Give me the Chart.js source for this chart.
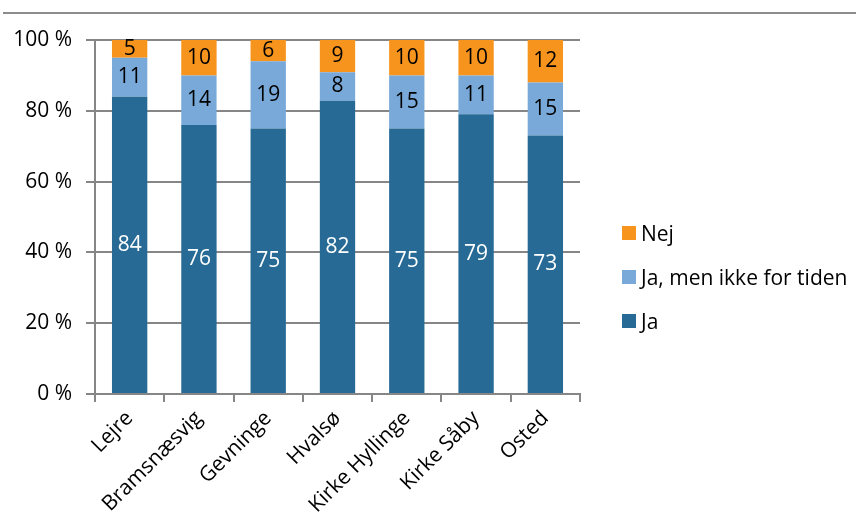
<!DOCTYPE html>
<html>
<head>
<meta charset="utf-8">
<script src="https://cdn.jsdelivr.net/npm/chart.js@4"></script>
<style>
  body { margin: 0; background: #fff; }
  #wrap { position: relative; width: 856px; height: 519px; }
  #topline { position: absolute; left: 3px; right: 0; top: 12px; border-top: 2px solid #8c8c8c; }
  #legend { position: absolute; left: 622px; top: 211px; font-family: 'Open Sans', sans-serif; font-size: 21px; color: #000; }
  .item { display: flex; align-items: center; height: 44px; }
  .item span.box { width: 14px; height: 14px; margin-right: 5px; display: inline-block; }
  .item span.txt { line-height: 24px; }
</style>
</head>
<body>
<div id="wrap">
  <canvas id="chart" width="856" height="519"></canvas>
  <div id="topline"></div>
  <div id="legend"></div>
</div>
<script>
document.addEventListener('DOMContentLoaded', () => {

    const categories = ['Lejre', 'Bramsnæsvig', 'Gevninge', 'Hvalsø', 'Kirke Hyllinge', 'Kirke Såby', 'Osted'];
    const ja = [84, 76, 75, 82, 75, 79, 73];
    const jaMen = [11, 14, 19, 8, 15, 11, 15];
    const nej = [5, 10, 6, 9, 10, 10, 12];
    const yTicks = [0, 20, 40, 60, 80, 100];

    const colors = { ja: '#276a95', jaMen: '#78a9d8', nej: '#f7941e' };
    const font = "'Open Sans', sans-serif";

    // 100 % stacking
    const totals = categories.map((c, i) => ja[i] + jaMen[i] + nej[i]);
    const pct = arr => arr.map((v, i) => v / totals[i] * 100);

    const series = [
        { label: 'Ja', raw: ja, color: colors.ja, text: '#fff' },
        { label: 'Ja, men ikke for tiden', raw: jaMen, color: colors.jaMen, text: '#000' },
        { label: 'Nej', raw: nej, color: colors.nej, text: '#000' }
    ];

    const valueLabels = {
        id: 'valueLabels',
        afterDatasetsDraw(chart) {
            const ctx = chart.ctx;
            ctx.save();
            ctx.font = '21px ' + font;
            ctx.textAlign = 'center';
            ctx.textBaseline = 'middle';
            chart.data.datasets.forEach((ds, di) => {
                const meta = chart.getDatasetMeta(di);
                meta.data.forEach((bar, i) => {
                    ctx.fillStyle = series[di].text;
                    ctx.fillText(series[di].raw[i], bar.x, (bar.y + bar.base) / 2);
                });
            });
            ctx.restore();
        }
    };

    new Chart(document.getElementById('chart').getContext('2d'), {
        type: 'bar',
        data: {
            labels: categories,
            datasets: series.map(s => ({
                label: s.label,
                data: pct(s.raw),
                backgroundColor: s.color,
                borderWidth: 0,
                categoryPercentage: 1,
                barPercentage: 0.51
            }))
        },
        options: {
            responsive: false,
            animation: false,
            layout: { padding: { top: 40, right: 276, left: 0, bottom: 0 } },
            plugins: { legend: { display: false }, tooltip: { enabled: false } },
            scales: {
                x: {
                    stacked: true,
                    afterFit: s => { s.height = 125; },
                    grid: { drawOnChartArea: false, color: '#868686', tickLength: 8, lineWidth: 2 },
                    border: { color: '#868686', width: 2 },
                    ticks: { color: '#000', font: { family: font, size: 21 }, minRotation: 45, maxRotation: 45, padding: 4 }
                },
                y: {
                    stacked: true,
                    min: 0,
                    max: 100,
                    afterFit: s => { s.width = 95; },
                    afterBuildTicks: s => { s.ticks = yTicks.map(v => ({ value: v })); },
                    grid: { color: '#868686', tickLength: 9, lineWidth: 2 },
                    border: { color: '#868686', width: 2 },
                    ticks: { color: '#000', font: { family: font, size: 21 }, padding: 14, callback: v => v + ' %' }
                }
            }
        },
        plugins: [valueLabels]
    });

    const legend = document.getElementById('legend');
    series.slice().reverse().forEach(s => {
        const row = document.createElement('div');
        row.className = 'item';
        row.innerHTML = '<span class="box" style="background:' + s.color + '"></span><span class="txt">' + s.label + '</span>';
        legend.appendChild(row);
    });
});
</script>
</body>
</html>
